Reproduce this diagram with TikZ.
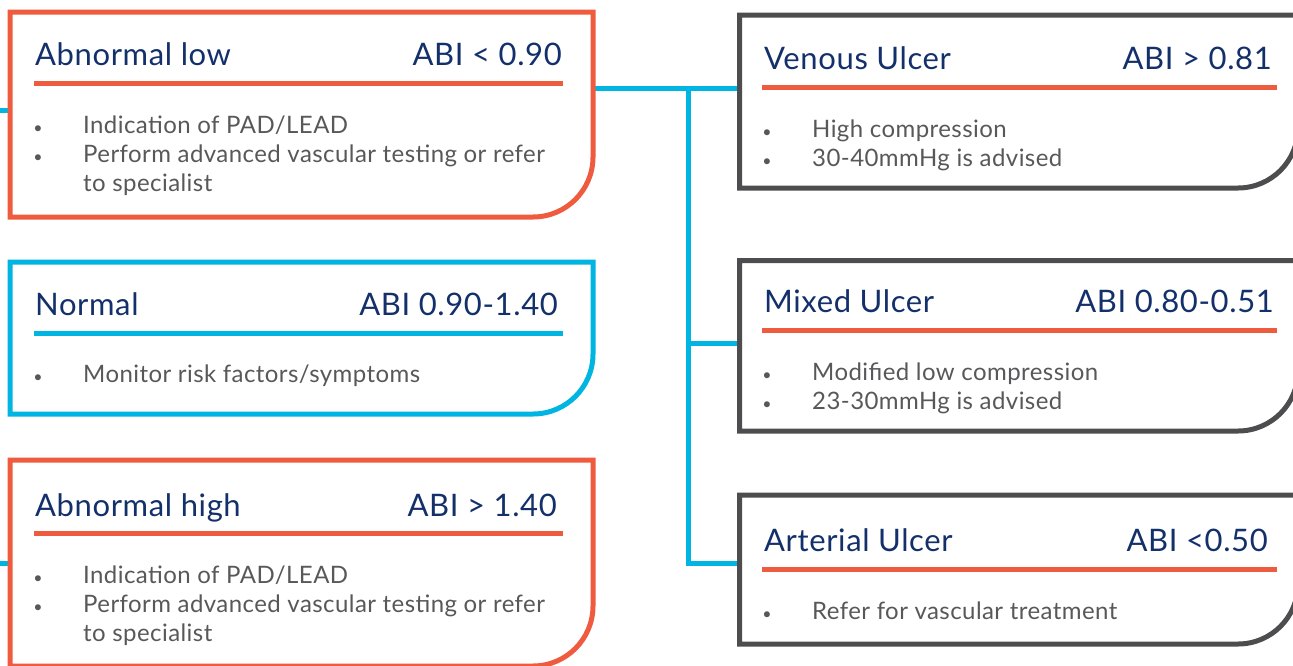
\documentclass[tikz,border=0pt]{standalone}
\usepackage{fontspec}
\setmainfont{Lato}
\newfontfamily\abititlefont[LetterSpace=2]{Lato}
\newfontfamily\abibodyfont[LetterSpace=1.8]{Lato}

\definecolor{abired}{HTML}{EF5B3E}
\definecolor{abiblue}{HTML}{00B5E2}
\definecolor{abigray}{HTML}{4D4D4F}
\definecolor{abinavy}{HTML}{13306A}
\definecolor{abitext}{HTML}{58585A}

\tikzset{
  boxarea/.style={rectangle, inner sep=0pt, outer sep=0pt, anchor=north west},
  boxline/.style={line width=5pt, draw=#1},
  underline/.style={line width=5pt, draw=#1},
  link/.style={line width=5pt, draw=abiblue},
  title/.style={inner sep=0pt, text=abinavy, font=\abititlefont\fontsize{31}{37}\selectfont},
  bodytext/.style={inner sep=0pt, text=abitext, font=\abibodyfont\fontsize{24}{29}\selectfont},
  dot/.style={inner sep=0pt, text=abitext, font=\fontsize{16}{20}\selectfont},
}

\begin{document}
\begin{tikzpicture}[x=1pt, y=-1pt]
    \useasboundingbox (0,0) rectangle (1293,665);

    % connectors
    \coordinate (inlow) at (0,110);
    \coordinate (inhigh) at (0,563);
    \coordinate (split) at (688,88);
    \coordinate (tomixed) at (688,343);
    \coordinate (toarterial) at (688,563);

    % boxes: name / colour / left / top / width / height
    \foreach \name/\col/\x/\y/\w/\h in {low/abired/10/12/583/205,
            normal/abiblue/10/262/583/152, high/abired/10/460/583/206,
            venous/abigray/739.5/15/558.5/173, mixed/abigray/739.5/260.5/558.5/170.5,
            arterial/abigray/739.5/495/558.5/149} {
        \node[boxarea, minimum width=\w pt, minimum height=\h pt] (\name) at (\x,\y) {};
    }

    \draw[link] (inlow) -- (inlow -| low.west);
    \draw[link] (inhigh) -- (inhigh -| high.west);
    \draw[link] (split -| low.east) -- (split -| venous.west);
    \draw[link] (split) -- (toarterial) -- (toarterial -| arterial.west);
    \draw[link] (tomixed) -- (tomixed -| mixed.west);

    \foreach \name/\col in {low/abired, normal/abiblue, high/abired,
            venous/abigray, mixed/abigray, arterial/abigray} {
        \draw[boxline=\col] (\name.north west) -- (\name.north east)
            -- ([yshift=60pt]\name.south east) arc[start angle=0, end angle=-90, radius=60pt]
            -- (\name.south west) -- cycle;
    }

    % titles
    \node[title, anchor=base west] (lowtitle) at (35,65) {Abnormal low};
    \node[title, anchor=base east] (lowabi) at (562,65) {ABI < 0.90};
    \node[title, anchor=base west] (normaltitle) at (35,315) {Normal};
    \node[title, anchor=base east] (normalabi) at (558,315) {ABI 0.90-1.40};
    \node[title, anchor=base west] (hightitle) at (35,516) {Abnormal high};
    \node[title, anchor=base east] (highabi) at (557,516) {ABI > 1.40};
    \node[title, anchor=base west] (venoustitle) at (764,69) {Venous Ulcer};
    \node[title, anchor=base east] (venousabi) at (1272,69) {ABI > 0.81};
    \node[title, anchor=base west] (mixedtitle) at (764,312) {Mixed Ulcer};
    \node[title, anchor=base east] (mixedabi) at (1274,312) {ABI 0.80-0.51};
    \node[title, anchor=base west] (arterialtitle) at (764,551) {Arterial Ulcer};
    \node[title, anchor=base east] (arterialabi) at (1268,551) {ABI <0.50};

    % underlines
    \draw[underline=abired] (34,83) -- (563,83);
    \draw[underline=abiblue] (34,333) -- (563,333);
    \draw[underline=abired] (34,533) -- (563,533);
    \foreach \y in {87, 330, 569} {
        \draw[underline=abired] (762,\y) -- (1277,\y);
    }

    % bullets
    \foreach \x/\y in {38/133, 38/162, 38/382, 38/583, 38/612,
            767/137, 767/166, 767/380, 767/409, 767/619} {
        \node[dot, anchor=base] at (\x,\y) {•};
    }

    % lists
    \node[bodytext, anchor=base west] (low1) at (83,133) {Indication of PAD/LEAD};
    \node[bodytext, anchor=base west] (low2) at (83,162) {Perform advanced vascular testing or refer};
    \node[bodytext, anchor=base west] (low3) at (83,191) {to specialist};
    \node[bodytext, anchor=base west] (normal1) at (83,382) {Monitor risk factors/symptoms};
    \node[bodytext, anchor=base west] (high1) at (83,583) {Indication of PAD/LEAD};
    \node[bodytext, anchor=base west] (high2) at (83,612) {Perform advanced vascular testing or refer};
    \node[bodytext, anchor=base west] (high3) at (83,641) {to specialist};
    \node[bodytext, anchor=base west] (venous1) at (812,137) {High compression};
    \node[bodytext, anchor=base west] (venous2) at (812,166) {30-40mmHg is advised};
    \node[bodytext, anchor=base west] (mixed1) at (812,380) {Modified low compression};
    \node[bodytext, anchor=base west] (mixed2) at (812,409) {23-30mmHg is advised};
    \node[bodytext, anchor=base west] (arterial1) at (812,619) {Refer for vascular treatment};

\end{tikzpicture}
\end{document}
